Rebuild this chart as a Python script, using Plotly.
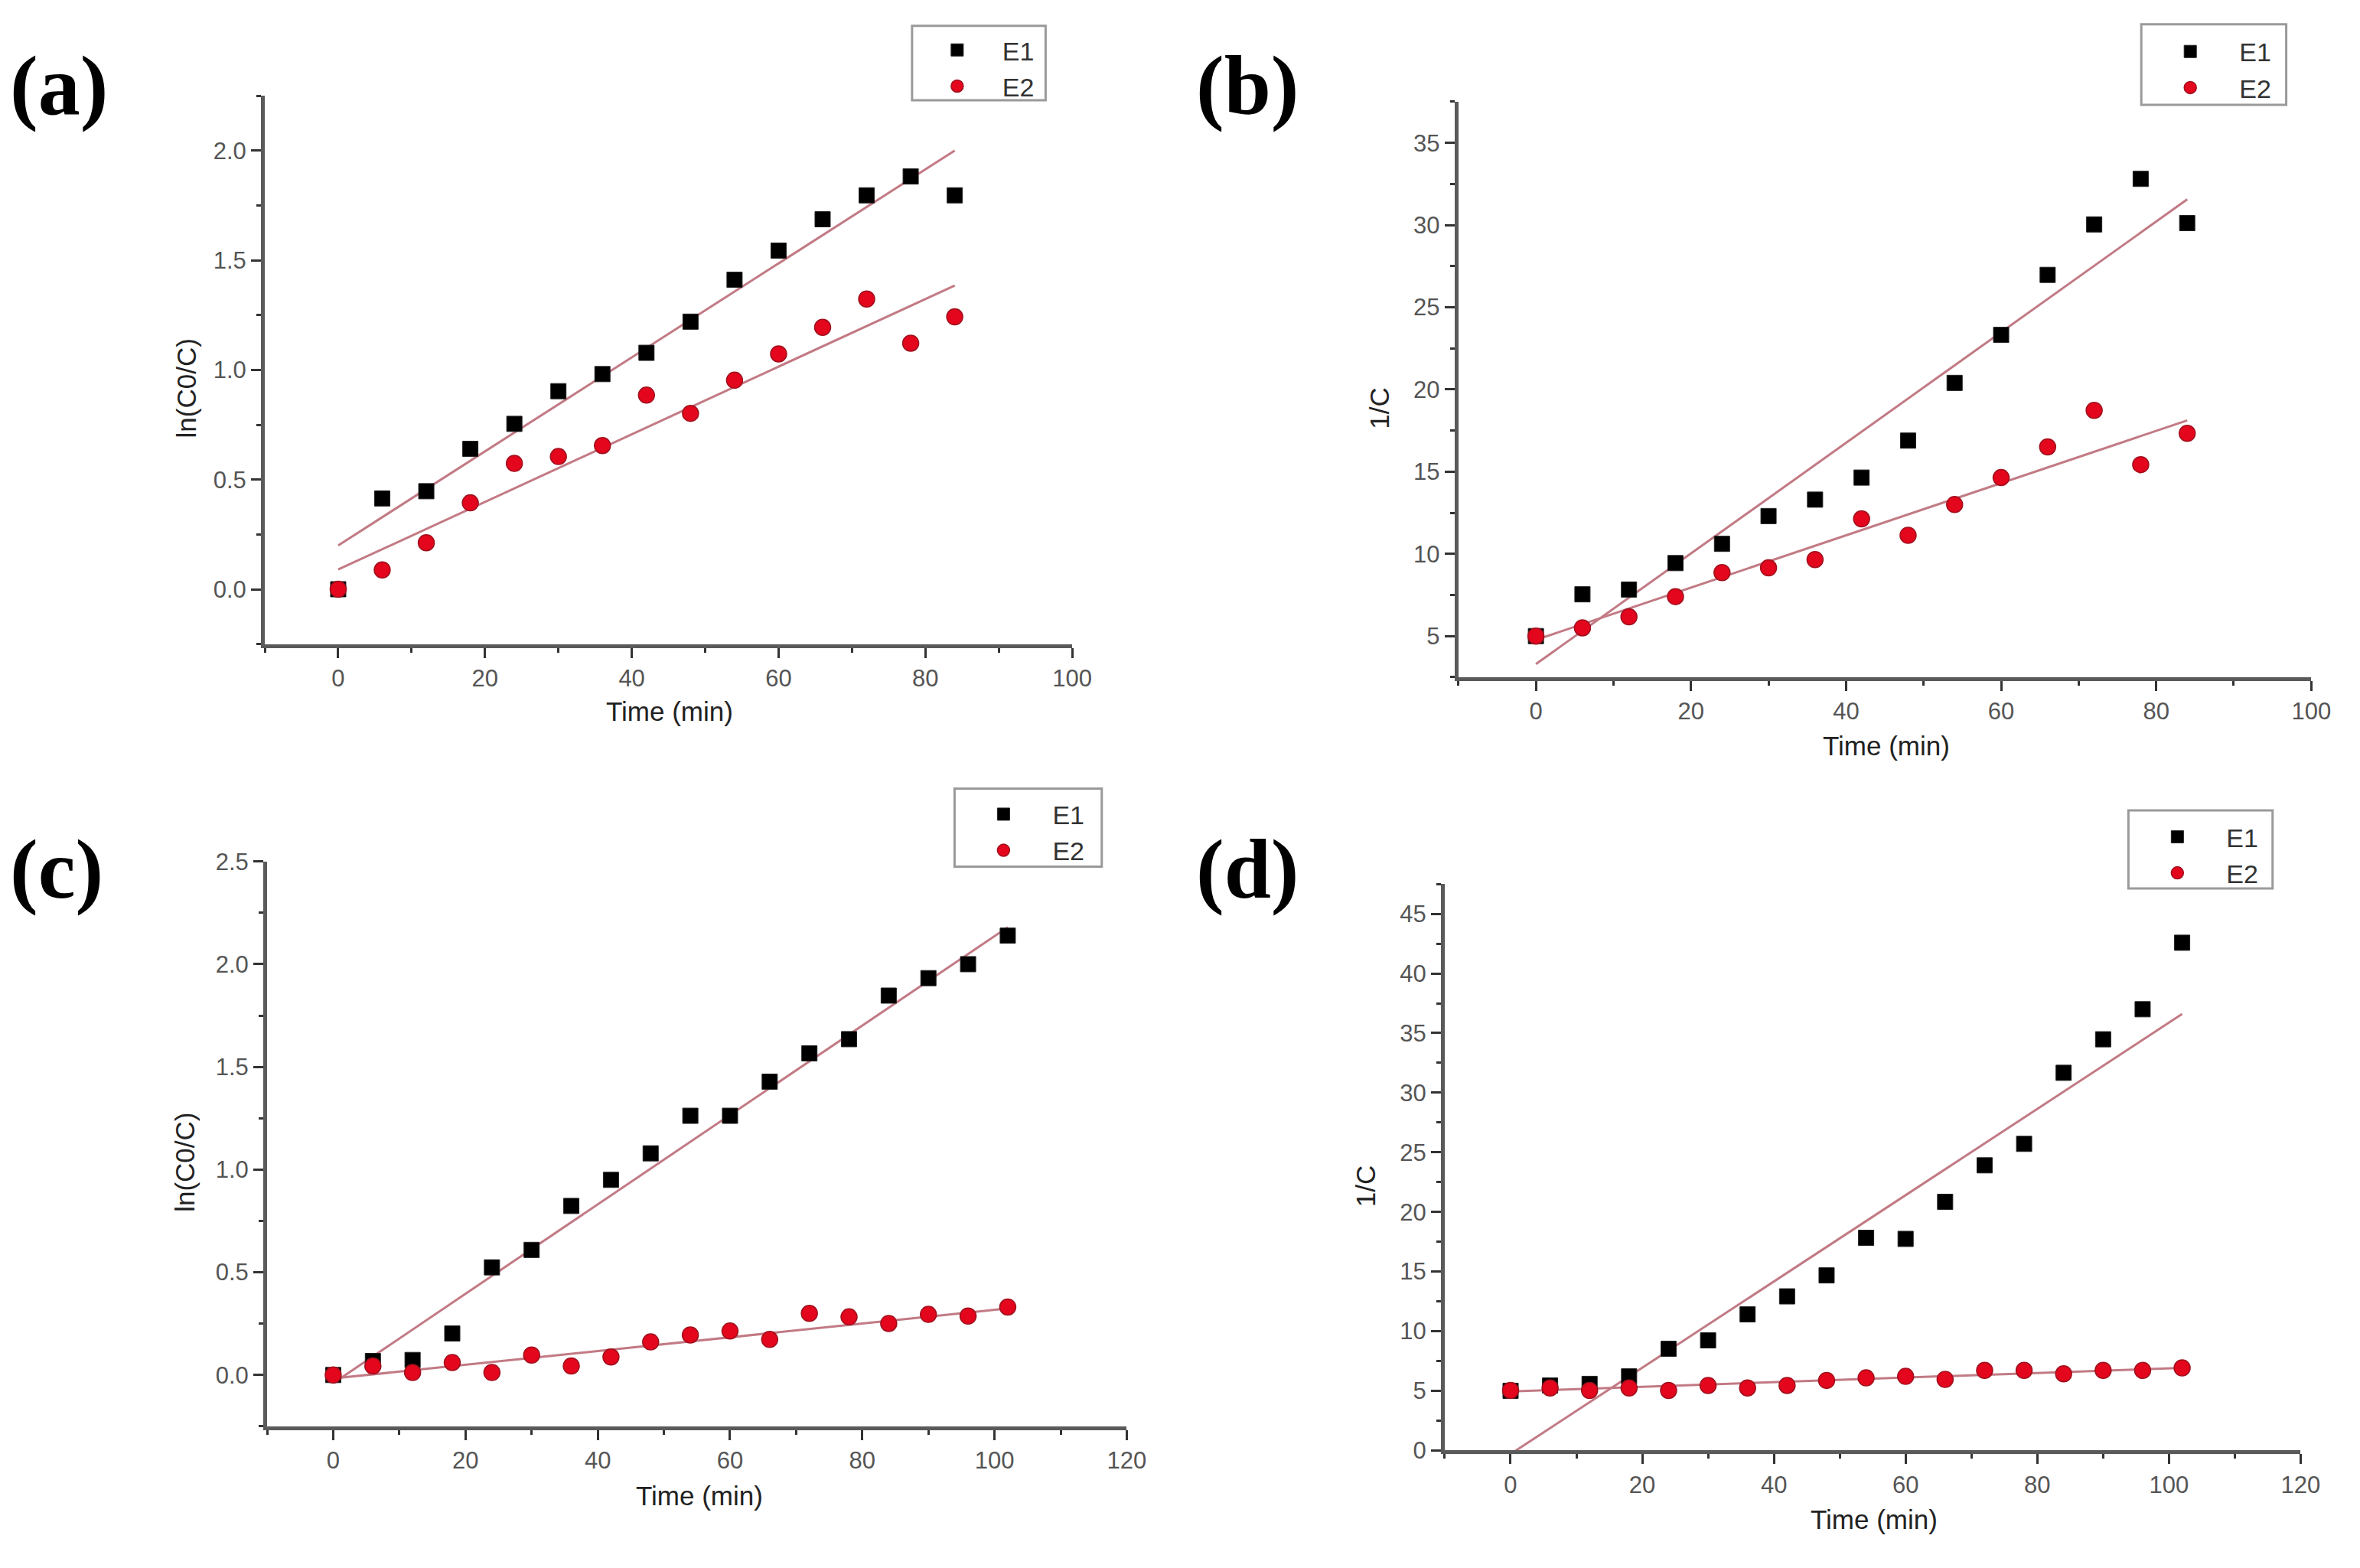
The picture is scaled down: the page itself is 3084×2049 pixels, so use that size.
import plotly.graph_objects as go

W, H = 3084, 2049

# ---------------- data ----------------
time_ab = [0, 6, 12, 18, 24, 30, 36, 42, 48, 54, 60, 66, 72, 78, 84]
time_cd = [0, 6, 12, 18, 24, 30, 36, 42, 48, 54, 60, 66, 72, 78, 84, 90, 96, 102]

a_E1 = [0.0, 0.414, 0.447, 0.640, 0.754, 0.903, 0.981, 1.078, 1.220, 1.411, 1.544, 1.687, 1.796, 1.882, 1.796]
a_E2 = [0.0, 0.088, 0.212, 0.394, 0.574, 0.605, 0.655, 0.885, 0.802, 0.953, 1.073, 1.194, 1.323, 1.122, 1.242]

b_E1 = [5.0, 7.54, 7.83, 9.44, 10.61, 12.30, 13.30, 14.64, 16.89, 20.40, 23.32, 26.97, 30.04, 32.81, 30.12]
b_E2 = [5.0, 5.50, 6.17, 7.40, 8.86, 9.15, 9.65, 12.13, 11.13, 13.00, 14.64, 16.51, 18.73, 15.43, 17.33]

c_E1 = [0.0, 0.068, 0.073, 0.202, 0.524, 0.609, 0.823, 0.950, 1.079, 1.262, 1.262, 1.428, 1.566, 1.635, 1.847, 1.932, 2.000, 2.139]
c_E2 = [0.0, 0.044, 0.012, 0.061, 0.012, 0.097, 0.044, 0.088, 0.161, 0.195, 0.214, 0.173, 0.300, 0.283, 0.251, 0.295, 0.287, 0.331]

d_E1 = [5.0, 5.45, 5.58, 6.21, 8.52, 9.23, 11.41, 12.92, 14.68, 17.83, 17.74, 20.85, 23.91, 25.71, 31.67, 34.48, 37.00, 42.58]
d_E2 = [5.03, 5.24, 5.03, 5.24, 5.03, 5.45, 5.24, 5.45, 5.87, 6.08, 6.21, 5.96, 6.71, 6.71, 6.42, 6.71, 6.71, 6.92]

# linear-fit lines (end points)
fit_time_ab = [0, 84]
fit_time_cd = [0, 102]
fit_a_E1 = [0.20, 2.00]
fit_a_E2 = [0.09, 1.385]
fit_b_E1 = [3.3, 31.56]
fit_b_E2 = [4.77, 18.12]
fit_c_E1 = [-0.04, 2.18]
fit_c_E2 = [-0.017, 0.324]
fit_d_E1 = [-0.3, 36.6]
fit_d_E2 = [4.95, 6.92]

panel_labels = ["(a)", "(b)", "(c)", "(d)"]
y_titles = ["ln(C0/C)", "1/C", "ln(C0/C)", "1/C"]
x_title = "Time (min)"
series_names = ["E1", "E2"]

# ---------------- styling ----------------
BLACK = "#000000"
RED = "#e3061c"
FIT = "#c27a84"
AXIS = "#5a5a5a"
TICKFONT = dict(family="Liberation Sans, Arial", size=31, color="#555555")
TITLEFONT = dict(family="Liberation Sans, Arial", size=35, color="#222222")


def px_x(p):
    return p / W


def px_y(p):
    return 1 - p / H


# plot areas in pixels: (left, right, top, bottom)
areas = [
    (349, 1413, 110, 839),
    (1922, 3046, 118, 883),
    (352, 1485, 1128, 1879),
    (1904, 3032, 1158, 1911),
]
xranges = [[-10, 100], [-10, 100], [-10, 120], [-10, 120]]
yranges = [[-0.25, 2.25], [2.5, 37.5], [-0.25, 2.5], [0, 47.5]]
ydticks = [0.5, 5, 0.5, 5]
yformats = [".1f", "d", ".1f", "d"]
# legend boxes in pixels: (left, top, right, bottom)
legend_boxes = [(1202, 17, 1378, 116), (2822, 15, 3013, 122),
                (1258, 1031, 1452, 1135), (2805, 1060, 2995, 1164)]
legend_itemw = [108, 118, 118, 118]
legend_dy = [3, 7, 5, 6]
label_pos = [(78, 97), (1644, 97), (75, 1138), (1644, 1138)]
ytitle_pos = [(246, 499), (1817, 526), (244, 1528), (1800, 1560)]
xtitle_pos = [(882, 928), (2486, 974), (922, 1971), (2470, 2003)]

panels = [
    (time_ab, a_E1, a_E2, fit_time_ab, fit_a_E1, fit_a_E2),
    (time_ab, b_E1, b_E2, fit_time_ab, fit_b_E1, fit_b_E2),
    (time_cd, c_E1, c_E2, fit_time_cd, fit_c_E1, fit_c_E2),
    (time_cd, d_E1, d_E2, fit_time_cd, fit_d_E1, fit_d_E2),
]

fig = go.Figure()
layout = dict(
    width=W, height=H,
    margin=dict(l=0, r=0, t=0, b=0),
    paper_bgcolor="white", plot_bgcolor="white",
    showlegend=True,
    annotations=[],
    shapes=[],
)

for i, (t, e1, e2, ft, f1, f2) in enumerate(panels):
    n = "" if i == 0 else str(i + 1)
    xa, ya = "x" + n, "y" + n
    lg = "legend" + n
    fig.add_trace(go.Scatter(x=ft, y=f1, mode="lines", xaxis=xa, yaxis=ya,
                             line=dict(color=FIT, width=3), showlegend=False, hoverinfo="skip"))
    fig.add_trace(go.Scatter(x=ft, y=f2, mode="lines", xaxis=xa, yaxis=ya,
                             line=dict(color=FIT, width=3), showlegend=False, hoverinfo="skip"))
    fig.add_trace(go.Scatter(x=t, y=e1, mode="markers", name=series_names[0], xaxis=xa, yaxis=ya,
                             legend=lg,
                             marker=dict(symbol="square", size=20, color=BLACK,
                                         line=dict(color="#222222", width=1))))
    fig.add_trace(go.Scatter(x=t, y=e2, mode="markers", name=series_names[1], xaxis=xa, yaxis=ya,
                             legend=lg,
                             marker=dict(symbol="circle", size=21, color=RED,
                                         line=dict(color="#a0101e", width=1.5))))

    l, r, tp, bt = areas[i]
    common = dict(showline=True, linecolor=AXIS, linewidth=5, mirror=False,
                  showgrid=False, zeroline=False, ticks="outside", ticklen=13,
                  tickwidth=3, tickcolor="#333333", tickfont=TICKFONT)
    layout["xaxis" + n] = dict(domain=[px_x(l), px_x(r)], range=xranges[i], anchor=ya,
                               tick0=0, dtick=20,
                               minor=dict(dtick=10, ticks="outside", ticklen=6, tickwidth=3,
                                          tickcolor="#333333", showgrid=False),
                               **common)
    layout["yaxis" + n] = dict(domain=[px_y(bt), px_y(tp)], range=yranges[i], anchor=xa,
                               tick0=0, dtick=ydticks[i], tickformat=yformats[i],
                               minor=dict(dtick=ydticks[i] / 2, ticks="outside", ticklen=6,
                                          tickwidth=3, tickcolor="#333333", showgrid=False),
                               **common)
    bl, btop, br, bb = legend_boxes[i]
    layout["shapes"].append(dict(type="rect", xref="paper", yref="paper",
                                 x0=px_x(bl), x1=px_x(br), y0=px_y(bb), y1=px_y(btop),
                                 line=dict(color="#9a9a9a", width=3), fillcolor="white",
                                 layer="below"))
    layout[lg] = dict(x=px_x(bl), y=px_y(btop + legend_dy[i]), xanchor="left", yanchor="top",
                      bgcolor="rgba(0,0,0,0)", borderwidth=0,
                      font=dict(family="Liberation Sans, Arial", size=34, color="#333333"),
                      itemwidth=legend_itemw[i], tracegroupgap=0)

    px_, py_ = label_pos[i]
    layout["annotations"].append(dict(
        text="<b>" + panel_labels[i] + "</b>", x=px_x(px_), y=px_y(py_),
        xref="paper", yref="paper", xanchor="center", yanchor="middle", showarrow=False,
        font=dict(family="Liberation Serif, Times New Roman", size=110, color="#000000")))
    tx, ty = ytitle_pos[i]
    layout["annotations"].append(dict(
        text=y_titles[i], x=px_x(tx), y=px_y(ty), xref="paper", yref="paper",
        xanchor="center", yanchor="middle", showarrow=False, textangle=-90, font=TITLEFONT))
    tx, ty = xtitle_pos[i]
    layout["annotations"].append(dict(
        text=x_title, x=px_x(tx), y=px_y(ty), xref="paper", yref="paper",
        xanchor="center", yanchor="middle", showarrow=False, font=TITLEFONT))

fig.update_layout(**layout)

fig.write_html("out.html", include_plotlyjs=True, config={"displayModeBar": False},
               post_script="document.body.style.margin='0';document.body.style.overflow='hidden';")
